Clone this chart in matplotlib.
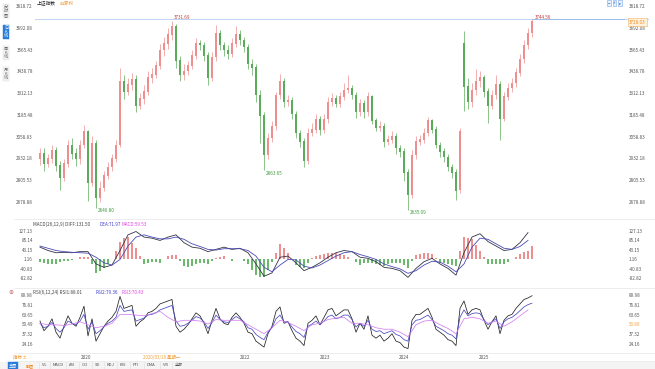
import numpy as np
import matplotlib.pyplot as plt

plt.rcParams['font.family'] = ['Noto Sans CJK SC', 'DejaVu Sans']

# weekly-ish bars
opens = [2930, 2960, 2900, 2930, 2980, 2890, 2820, 2900, 3010, 2960,
         2930, 3010, 3090, 2790, 3020, 2700, 2760, 2830, 2880, 2930,
         3010, 3380, 3320, 3360, 3390, 3240, 3280, 3320, 3400, 3420,
         3470, 3560, 3600, 3650, 3700, 3500, 3420, 3440, 3470, 3530,
         3600, 3590, 3530, 3400, 3520, 3660, 3590, 3560, 3540, 3600,
         3650, 3620, 3580, 3480, 3460, 3300, 3180, 2950, 3050, 3120,
         3300, 3380, 3260, 3270, 3190, 3080, 3030, 2920, 3080, 3100,
         3160, 3100, 3160, 3260, 3280, 3250, 3290, 3330, 3340, 3300,
         3200, 3250, 3200, 3290, 3150, 3110, 3120, 3030, 3040, 3060,
         2990, 2970, 2850, 2720, 2950, 3030, 3040, 3080, 3150, 3100,
         3010, 2970, 2940, 2880, 2850, 2750, 3600, 3350, 3260, 3330,
         3380, 3400, 3320, 3240, 3300, 3360, 3160, 3290, 3340, 3370,
         3430, 3510, 3590, 3660]
closes = [2960, 2900, 2930, 2980, 2890, 2820, 2900, 3010, 2960, 2930,
          3010, 3090, 2790, 3020, 2700, 2760, 2830, 2880, 2930, 3010,
          3380, 3320, 3360, 3390, 3240, 3280, 3320, 3400, 3420, 3470,
          3560, 3600, 3650, 3700, 3500, 3420, 3440, 3470, 3530, 3600,
          3590, 3530, 3400, 3520, 3660, 3590, 3560, 3540, 3600, 3650,
          3620, 3580, 3480, 3460, 3300, 3180, 2950, 3050, 3120, 3300,
          3380, 3260, 3270, 3190, 3080, 3030, 2920, 3080, 3100, 3160,
          3100, 3160, 3260, 3280, 3250, 3290, 3330, 3340, 3300, 3200,
          3250, 3200, 3290, 3150, 3110, 3120, 3030, 3040, 3060, 2990,
          2970, 2850, 2720, 2950, 3030, 3040, 3080, 3150, 3100, 3010,
          2970, 2940, 2880, 2850, 2740, 3090, 3350, 3260, 3330, 3380,
          3400, 3320, 3240, 3300, 3360, 3160, 3290, 3340, 3370, 3430,
          3510, 3590, 3660, 3730]
highs = [2995, 2990, 2960, 3010, 3000, 2920, 2930, 3040, 3050, 2990,
         3040, 3127, 3100, 3060, 3040, 2800, 2860, 2910, 2960, 3040,
         3460, 3420, 3400, 3430, 3420, 3310, 3360, 3440, 3460, 3500,
         3600, 3640, 3690, 3731.69, 3715, 3530, 3480, 3500, 3560, 3630,
         3620, 3610, 3550, 3550, 3710, 3680, 3610, 3590, 3630, 3700,
         3680, 3640, 3600, 3510, 3480, 3330, 3200, 3080, 3150, 3320,
         3424, 3400, 3300, 3290, 3210, 3100, 3050, 3110, 3140, 3190,
         3180, 3190, 3290, 3310, 3300, 3320, 3370, 3418, 3360, 3320,
         3280, 3270, 3320, 3300, 3170, 3150, 3140, 3070, 3090, 3080,
         3010, 2990, 2870, 2980, 3060, 3070, 3110, 3175, 3160, 3120,
         3030, 2990, 2960, 2900, 2870, 3110, 3674, 3400, 3370, 3450,
         3440, 3420, 3340, 3330, 3420, 3380, 3320, 3370, 3400, 3460,
         3540, 3620, 3690, 3744.56]
lows = [2895, 2860, 2880, 2905, 2860, 2750, 2800, 2880, 2930, 2890,
        2900, 2990, 2685, 2770, 2646.80, 2680, 2740, 2810, 2860, 2910,
        3000, 3280, 3300, 3330, 3200, 3220, 3250, 3300, 3370, 3400,
        3450, 3530, 3570, 3620, 3460, 3380, 3390, 3420, 3450, 3510,
        3560, 3500, 3360, 3380, 3500, 3560, 3530, 3510, 3520, 3580,
        3590, 3550, 3450, 3420, 3260, 3020, 2863.65, 2930, 3030, 3100,
        3280, 3230, 3240, 3160, 3050, 3000, 2885, 2900, 3060, 3080,
        3070, 3080, 3140, 3240, 3230, 3230, 3270, 3310, 3280, 3170,
        3180, 3170, 3180, 3130, 3090, 3090, 3000, 3010, 3020, 2960,
        2940, 2800, 2635.09, 2700, 2930, 3010, 3020, 3060, 3080, 2990,
        2940, 2910, 2860, 2820, 2689, 2730, 3210, 3220, 3230, 3300,
        3350, 3290, 3140, 3220, 3280, 3040, 3150, 3270, 3320, 3350,
        3410, 3490, 3570, 3640]

# MACD lines, every second bar
diff = [55, 40, 30, 32, 30, 35, 35, -20, -35, -25,
        40, 110, 125, 100, 95, 85, 100, 110, 75, 55,
        50, 35, 45, 55, 45, 50, 30, -20, -75, -60,
        10, 15, -15, -50, -35, -15, 10, 30, 40, 35,
        10, 5, -10, -35, -40, -50, -80, -40, -10, 5,
        -20, -40, -70, 30, 100, 115, 80, 60, 40, 45,
        75, 120]
dea = [60, 50, 40, 35, 32, 30, 28, 10, -15, -25,
       0, 60, 100, 110, 100, 92, 92, 100, 90, 70,
       58, 45, 42, 48, 48, 48, 40, 15, -35, -55,
       -25, 0, -2, -30, -38, -25, -5, 15, 30, 35,
       22, 12, 0, -20, -32, -42, -62, -50, -25, -8,
       -12, -30, -55, -20, 55, 95, 90, 70, 50, 45,
       58, 85]
macd_hist = [-10, -15, -20, -22, -20, -12, -6, -5, -4, 2,
             10, 12, 10, -20, -60, -52, -40, -20, 0, 40,
             80, 95, 100, 75, 50, 15, -20, -15, -10, -12,
             -14, 0, 16, 20, 20, -5, -30, -32, -30, -22,
             -16, -18, -20, -8, 6, 10, 14, 4, -6, 0,
             4, -8, -20, -45, -70, -78, -80, -45, -10, 30,
             70, 50, 30, 0, -26, -34, -40, -15, 6, 14,
             20, 26, 30, 30, 30, 25, 20, 10, 0, -12,
             -24, -18, -14, -18, -20, -25, -30, -22, -16, -16,
             -16, -26, -36, -5, 20, 26, 30, 28, 26, 5,
             -16, -18, -20, -25, -30, 40, 100, 95, 90, 65,
             40, 10, -20, -20, -20, -20, -20, -10, 0, 12,
             24, 32, 40, 60]

rsi1 = [55, 42, 48, 58, 40, 32, 48, 62, 52, 48,
        60, 75, 35, 58, 28, 38, 48, 55, 60, 68,
        88, 72, 74, 76, 48, 54, 58, 66, 68, 72,
        78, 80, 82, 84, 48, 40, 44, 50, 58, 66,
        62, 52, 38, 56, 72, 58, 52, 50, 60, 66,
        60, 52, 40, 38, 28, 24, 20, 38, 48, 68,
        74, 52, 54, 42, 32, 28, 22, 52, 56, 62,
        50, 60, 70, 72, 62, 66, 70, 70, 58, 40,
        52, 44, 62, 36, 32, 36, 28, 32, 38, 28,
        26, 20, 18, 56, 64, 64, 68, 72, 60, 44,
        40, 36, 30, 28, 22, 72, 82, 64, 70, 72,
        70, 56, 44, 54, 62, 38, 56, 62, 64, 72,
        78, 84, 86, 89]
rsi2 = [52, 46, 48, 53, 45, 40, 46, 55, 52, 50,
        55, 64, 44, 54, 38, 42, 47, 52, 55, 60,
        76, 68, 69, 70, 55, 57, 59, 63, 64, 66,
        70, 72, 74, 76, 55, 48, 49, 52, 56, 61,
        59, 54, 45, 53, 63, 57, 54, 53, 57, 61,
        58, 54, 46, 44, 37, 33, 30, 40, 46, 58,
        63, 54, 54, 47, 41, 38, 33, 48, 51, 55,
        50, 55, 61, 63, 58, 60, 63, 63, 57, 47,
        52, 48, 56, 44, 41, 42, 38, 40, 42, 37,
        35, 30, 28, 50, 56, 57, 60, 63, 57, 48,
        45, 42, 38, 36, 31, 60, 70, 62, 65, 66,
        65, 57, 50, 54, 58, 45, 54, 58, 60, 64,
        69, 74, 77, 79]
rsi3 = [52, 50, 50, 49, 51, 54, 50, 46, 48, 52,
        64, 64, 63, 62, 65, 68, 60, 54, 56, 56,
        55, 51, 57, 56, 56, 56, 50, 44, 38, 46,
        56, 53, 48, 42, 50, 52, 57, 59, 60, 52,
        52, 50, 46, 44, 44, 40, 34, 50, 55, 56,
        50, 45, 38, 58, 60, 58, 52, 55, 48, 54,
        62, 70]

price_ticks = ['3818.72', '3692.08', '3565.43', '3438.78', '3312.13',
               '3185.48', '3058.83', '2932.18', '2805.53', '2678.88']
macd_ticks = ['127.13', '85.14', '43.15', '1.16', '-40.83', '-82.82']
rsi_ticks = ['89.98', '76.81', '63.65', '50.49', '37.32', '24.16']
year_labels = ['2020', '2022', '2023', '2024', '2025']
year_pos = [11.5, 51.25, 71.25, 91.0, 111.0]

W, H = 655, 369
fig = plt.figure(figsize=(W / 100, H / 100), dpi=100)


def px_axes(x0, y0, x1, y1):
    ax = fig.add_axes([x0 / W, 1 - y1 / H, (x1 - x0) / W, (y1 - y0) / H])
    for s in ax.spines.values():
        s.set_visible(False)
    ax.set_xlim(-1.25, 146.25)
    return ax


def ftxt(x, y, s, **kw):
    kw.setdefault('fontsize', 3.3)
    kw.setdefault('va', 'center')
    fig.text(x / W, 1 - y / H, s, **kw)


def set_ticks(ax, labels, right_labels=None):
    vals = [float(t) for t in labels]
    ax.set_yticks(vals)
    ax.set_yticklabels(labels)
    ax.tick_params(axis='y', length=0, labelsize=3.3, labelcolor='#555555',
                   pad=1.5, labelleft=True, labelright=False)
    ax2 = ax.twinx()
    ax2.set_ylim(ax.get_ylim())
    ax2.set_yticks(vals)
    ax2.set_yticklabels(right_labels or labels)
    ax2.tick_params(axis='y', length=0, labelsize=3.3, labelcolor='#555555', pad=2.5)
    for s in ax2.spines.values():
        s.set_visible(False)
    ax.set_xticks([])
    return ax2


idx = np.arange(len(closes))
o = np.array(opens, float)
c = np.array(closes, float)
hi = np.array(highs, float)
lo = np.array(lows, float)
up = c >= o
col = np.where(up, '#ee8f8f', '#5aab5a')

# main candles
ax = px_axes(35, 2, 625, 218)
ax.set_ylim(2585.8, 3841.98)
ax.vlines(idx, lo, hi, colors=col, linewidth=0.5)
ax.bar(idx, np.abs(c - o) + 3, bottom=np.minimum(o, c), width=0.45, color=col, linewidth=0)
set_ticks(ax, price_ticks)
top = hi.max()
ax.axhline(top, color='#6f9be0', linestyle=(0, (1.2, 1.2)), linewidth=0.6, clip_on=False)
ax.plot([idx[-1] + 0.3, 152], [top, top], color='#6f9be0', linestyle=(0, (1.2, 1.2)),
        linewidth=0.6, clip_on=False)

i_hi1 = int(np.argmax(hi[:60]))
ax.annotate('%.2f' % hi[i_hi1], (i_hi1, hi[i_hi1]), xytext=(2, 3), textcoords='offset pixels',
            fontsize=3.3, color='#c03a3a', va='center')
ax.annotate('%.2f' % hi[-1], (idx[-1], hi[-1]), xytext=(3, 1), textcoords='offset pixels',
            fontsize=3.3, color='#c03a3a', va='center')
for j in [int(np.argmin(lo[:30])), 56, int(np.argmin(lo))]:
    ax.annotate('%.2f' % lo[j], (j, lo[j]), xytext=(2, -3), textcoords='offset pixels',
                fontsize=3.3, color='#3a9a3a', va='center')

# MACD panel
axm = px_axes(35, 220, 625, 286)
axm.set_ylim(-118.56, 176.27)
hcol = np.where(np.array(macd_hist) >= 0, '#ee8f8f', '#6cb86c')
axm.bar(idx, macd_hist, width=0.4, color=hcol, linewidth=0)
axm.plot(idx[::2], diff, color='#333344', linewidth=0.6)
axm.plot(idx[::2], dea, color='#4a4ab8', linewidth=0.6)
set_ticks(axm, macd_ticks)

# RSI panel
axr = px_axes(35, 289, 625, 351)
axr.set_ylim(14.76, 98.04)
axr.plot(idx, rsi1, color='#222222', linewidth=0.55)
axr.plot(idx, rsi2, color='#4848c0', linewidth=0.55)
axr.plot(idx[::2], rsi3, color='#d27ef0', linewidth=0.55)
r2 = set_ticks(axr, rsi_ticks, right_labels=['89.98', '76.81', '63.65', '53.89', '37.32', '24.16'])
r2.get_yticklabels()[3].set_color('#f0a040')
axr.set_xticks(year_pos)
axr.set_xticklabels(year_labels)
axr.tick_params(axis='x', length=0, labelsize=3.3, labelcolor='#555555', pad=3)

# panel separators
for y in [219, 287.5, 353, 361]:
    fig.add_artist(plt.Line2D([14 / W, 1], [1 - y / H, 1 - y / H], color='#e6e6e6', linewidth=0.5))

# headers
ftxt(37, 3, '上证指数', color='#222222', fontsize=3.4)
ftxt(60, 3, '前复权', color='#f0a040', fontsize=3.4)
ftxt(33, 224, 'MACD(26,12,9) DIFF:131.50', color='#444444')
ftxt(99, 224, 'DEA:71.97', color='#3a3ad0')
ftxt(122, 224, 'MACD:59.53', color='#e040e0')
ftxt(33, 292, 'RSI(6,12,24) RSI1:88.01', color='#444444')
ftxt(95, 292, 'RSI2:79.36', color='#3a3ad0')
ftxt(122, 292, 'RSI3:70.43', color='#e040e0')
ftxt(8, 292, '⊕', color='#c06060', fontsize=3.6)

# current price box
ftxt(629, 22, '3728.03', color='#f08a20',
     bbox=dict(boxstyle='square,pad=0.25', fc='#fff2dc', ec='#f5b060', lw=0.4))

# top right buttons
for k, s in enumerate(['−', '+', '▸']):
    ftxt(609 + k * 5.5, 3, s, color='#3a7ad8', fontsize=3.2, ha='center',
         bbox=dict(boxstyle='square,pad=0.15', fc='#e6f0fc', ec='#7aa8e8', lw=0.4))

# left side tabs
tabs = ['分\n时\n图', '日\nK\n线', '周\nK\n线', '月\nK\n线']
for k, s in enumerate(tabs):
    sel = k == 1
    ftxt(6, 11 + k * 21, s, color='white' if sel else '#666666', fontsize=3.0, ha='center',
         linespacing=1.0,
         bbox=dict(boxstyle='square,pad=0.3', fc='#2a7ad8' if sel else '#f2f2f2',
                   ec='#2a7ad8' if sel else '#dddddd', lw=0.3))

# bottom info
ftxt(13, 357, '指标 ±', color='#f08a20', fontsize=3.2)
ftxt(143, 358, '2020/03/16 星期一', color='#f0a040', fontsize=3.2)

# bottom tabs
fig.add_artist(plt.Rectangle((0, 0), 1, 7 / H, color='#f4f4f4', lw=0))
ftxt(9, 365.5, '主图', color='white', fontsize=3.0,
     bbox=dict(boxstyle='square,pad=0.2', fc='#2a7ad8', ec='#2a7ad8', lw=0.3))
ftxt(26, 365.5, '副图', color='#f08a20', fontsize=3.0)
names = ['VL', 'MACD', 'ASI', 'CCI', 'SD', 'KDJ', 'BIS', 'PTI', 'DMA', 'VR', '全部']
xs = [42, 53, 69, 82, 95, 107, 120, 133, 147, 163, 175]
for x, s in zip(xs, names):
    ftxt(x, 365.5, s, color='#555555', fontsize=3.0)
    fig.add_artist(plt.Line2D([(x - 3) / W] * 2, [0, 7 / H], color='#dddddd', linewidth=0.4))

fig.savefig('out.png', dpi=100, facecolor='white')
